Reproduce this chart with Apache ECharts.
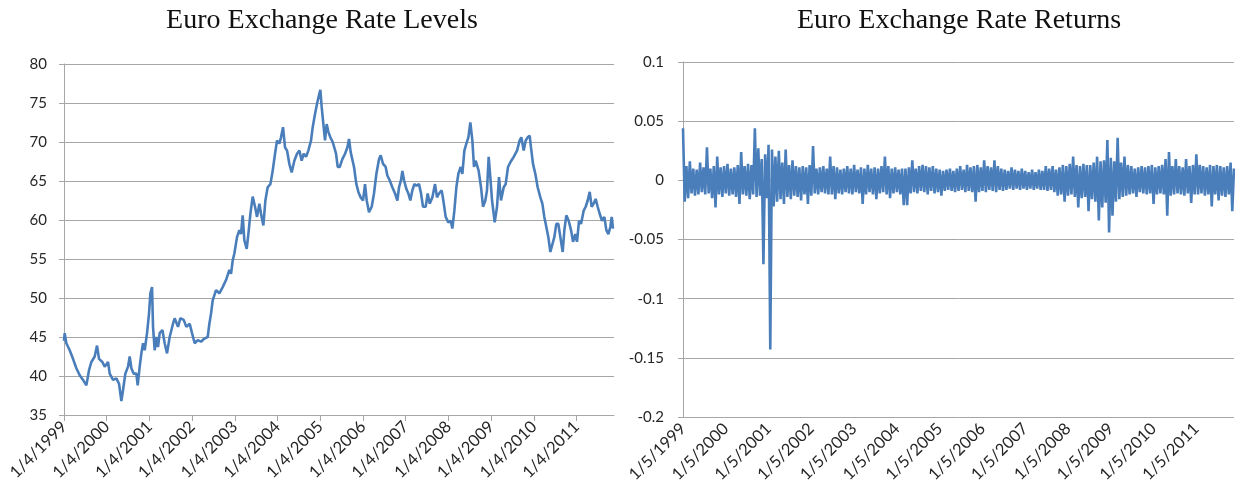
<!DOCTYPE html>
<html>
<head>
<meta charset="utf-8">
<script src="https://cdn.jsdelivr.net/npm/echarts@6/dist/echarts.min.js"></script>
<style>
html,body{margin:0;padding:0;background:#fff;}
#chart{width:1235px;height:501px;}
</style>
</head>
<body>
<div id="chart"></div>
<script>
// ---- data (x = years since the first observation) ----
const levelTitle = 'Euro Exchange Rate Levels';
const returnTitle = 'Euro Exchange Rate Returns';
const tickYears = [1999,2000,2001,2002,2003,2004,2005,2006,2007,2008,2009,2010,2011];
const levelTickLabels = tickYears.map(y => '1/4/' + y);
const returnTickLabels = tickYears.map(y => '1/5/' + y);
const levelSpan = 12.875;
const returnSpan = 12.88;

const levelSeries = [
[0,44.5],[0.016,45.5],[0.055,44.2],[0.133,43.3],[0.211,42.2],[0.289,41.0],[0.368,40.1],[0.446,39.5],[0.524,38.8],[0.586,40.75],
[0.641,41.8],[0.719,42.5],[0.773,43.9],[0.820,42.2],[0.898,41.8],[0.953,41.2],[1.031,41.8],[1.070,40.3],[1.148,39.5],[1.226,39.7],
[1.288,39.0],[1.343,36.8],[1.382,38.2],[1.436,40.3],[1.499,41.2],[1.538,42.5],[1.577,41.0],[1.632,40.3],[1.694,40.3],[1.725,38.8],
[1.772,41.2],[1.811,42.9],[1.850,44.2],[1.889,43.3],[1.944,45.5],[1.990,48.0],[2.022,50.6],[2.061,51.4],[2.084,46.3],[2.123,43.3],
[2.162,45.0],[2.201,43.7],[2.240,45.5],[2.303,45.9],[2.357,44.2],[2.412,42.9],[2.474,45.0],[2.552,46.7],[2.591,47.4],[2.669,46.3],
[2.724,47.4],[2.802,47.2],[2.864,46.3],[2.942,46.7],[2.997,45.5],[3.059,44.2],[3.130,44.6],[3.208,44.4],[3.286,44.8],[3.364,45.0],
[3.403,46.7],[3.442,48.0],[3.481,49.7],[3.559,51.0],[3.637,50.6],[3.715,51.4],[3.793,52.3],[3.871,53.6],[3.910,53.1],[3.949,54.8],
[3.988,55.7],[4.050,57.8],[4.105,58.7],[4.144,58.2],[4.183,60.6],[4.222,57.4],[4.277,56.3],[4.316,58.2],[4.363,60.8],[4.417,63.0],
[4.472,61.7],[4.519,60.4],[4.573,62.1],[4.612,60.8],[4.667,59.3],[4.714,62.5],[4.768,64.2],[4.831,64.6],[4.885,66.3],[4.940,68.5],
[4.987,70.2],[5.041,69.8],[5.080,70.6],[5.127,71.9],[5.174,69.3],[5.221,68.9],[5.275,67.2],[5.330,66.1],[5.392,67.6],[5.455,68.5],
[5.510,68.9],[5.564,67.6],[5.611,68.5],[5.666,68.1],[5.720,68.9],[5.783,70.2],[5.822,71.9],[5.876,73.6],[5.923,74.9],[5.978,76.2],
[6.001,76.7],[6.032,74.5],[6.079,71.9],[6.110,70.2],[6.149,72.3],[6.188,71.3],[6.235,70.6],[6.290,70.0],[6.329,70.2],[6.368,68.5],
[6.407,66.8],[6.454,66.8],[6.516,67.8],[6.579,68.5],[6.633,69.3],[6.672,70.4],[6.711,68.7],[6.789,66.8],[6.844,64.6],[6.891,63.6],
[6.945,62.9],[7.000,62.5],[7.047,64.6],[7.086,62.5],[7.140,61.0],[7.203,61.7],[7.257,63.4],[7.312,65.9],[7.374,67.8],[7.413,68.3],
[7.468,67.2],[7.530,66.8],[7.569,65.7],[7.624,65.1],[7.686,64.2],[7.749,63.4],[7.804,62.5],[7.843,64.2],[7.889,65.1],[7.921,66.3],
[7.960,65.1],[8.014,64.0],[8.061,63.4],[8.108,62.5],[8.155,63.8],[8.201,64.6],[8.248,64.4],[8.311,64.6],[8.358,63.4],[8.404,61.7],
[8.467,61.7],[8.514,63.4],[8.560,62.1],[8.623,62.9],[8.685,64.6],[8.732,62.9],[8.779,63.4],[8.841,63.8],[8.880,62.5],[8.935,60.4],
[8.997,59.7],[9.052,59.9],[9.091,58.9],[9.138,61.2],[9.185,64.2],[9.231,65.9],[9.286,66.8],[9.325,65.9],[9.372,68.9],[9.419,69.8],
[9.466,70.6],[9.512,72.5],[9.559,70.2],[9.598,66.8],[9.637,67.6],[9.707,66.3],[9.762,64.2],[9.809,61.7],[9.863,62.5],[9.902,63.8],
[9.941,68.1],[9.980,65.5],[10.020,62.5],[10.059,60.8],[10.082,59.7],[10.137,61.7],[10.183,65.5],[10.230,62.5],[10.293,64.2],[10.339,64.6],
[10.394,66.8],[10.449,67.4],[10.527,68.1],[10.605,68.9],[10.667,70.2],[10.706,70.6],[10.761,68.9],[10.808,70.2],[10.854,70.6],[10.901,70.8],
[10.932,69.3],[10.979,67.2],[11.034,65.9],[11.088,64.2],[11.151,62.9],[11.198,62.1],[11.244,60.4],[11.291,59.1],[11.338,57.8],[11.385,55.9],
[11.431,56.1],[11.478,57.8],[11.525,59.5],[11.572,59.5],[11.619,57.8],[11.674,55.9],[11.713,58.7],[11.759,60.6],[11.814,59.9],[11.869,58.7],
[11.916,57.2],[11.970,58.2],[12.009,57.2],[12.056,59.9],[12.103,59.5],[12.165,61.2],[12.212,61.7],[12.259,62.5],[12.306,63.6],[12.352,61.7],
[12.399,62.1],[12.446,62.7],[12.493,61.7],[12.540,60.8],[12.594,59.9],[12.649,60.4],[12.696,58.7],[12.743,58.2],[12.789,59.1],[12.821,60.4],
[12.852,58.9]
];

// returns sampled every 0.04 year (alternating upper / lower edge of the band)
const returnStep = 0.04;
const returnSamples = [
0.044,-0.018,0.012,-0.015,0.016,-0.011,0.010,-0.013,0.009,-0.012,
0.015,-0.010,0.011,-0.012,0.028,-0.011,0.010,-0.015,0.012,-0.023,
0.020,-0.012,0.011,-0.014,0.012,-0.011,0.014,-0.013,0.010,-0.012,
0.011,-0.014,0.013,-0.020,0.024,-0.012,0.012,-0.013,0.014,-0.016,
0.013,-0.012,0.044,-0.014,0.027,-0.013,0.018,-0.071,0.022,-0.015,
0.030,-0.143,0.026,-0.022,0.020,-0.018,0.025,-0.016,0.015,-0.020,
0.026,-0.014,0.013,-0.016,0.017,-0.013,0.012,-0.014,0.011,-0.017,
0.012,-0.012,0.011,-0.020,0.013,-0.013,0.029,-0.011,0.010,-0.012,
0.011,-0.010,0.012,-0.011,0.010,-0.012,0.020,-0.012,0.012,-0.016,
0.011,-0.011,0.009,-0.012,0.010,-0.010,0.012,-0.011,0.010,-0.012,
0.013,-0.010,0.009,-0.011,0.011,-0.020,0.010,-0.012,0.013,-0.010,
0.010,-0.012,0.011,-0.016,0.010,-0.011,0.012,-0.010,0.020,-0.012,
0.012,-0.015,0.010,-0.011,0.011,-0.010,0.009,-0.012,0.010,-0.021,
0.010,-0.021,0.011,-0.011,0.017,-0.010,0.010,-0.011,0.012,-0.009,
0.013,-0.010,0.012,-0.012,0.011,-0.009,0.012,-0.011,0.010,-0.010,
0.009,-0.013,0.008,-0.009,0.009,-0.008,0.010,-0.009,0.008,-0.010,
0.010,-0.009,0.012,-0.008,0.009,-0.010,0.013,-0.009,0.011,-0.010,
0.012,-0.018,0.013,-0.010,0.011,-0.009,0.017,-0.010,0.012,-0.008,
0.011,-0.009,0.017,-0.010,0.012,-0.008,0.010,-0.009,0.009,-0.008,
0.008,-0.007,0.011,-0.008,0.009,-0.007,0.008,-0.008,0.010,-0.007,
0.008,-0.008,0.007,-0.007,0.009,-0.008,0.007,-0.007,0.009,-0.008,
0.008,-0.008,0.012,-0.009,0.010,-0.008,0.012,-0.010,0.009,-0.013,
0.011,-0.012,0.013,-0.018,0.012,-0.013,0.014,-0.012,0.020,-0.014,
0.013,-0.023,0.012,-0.015,0.014,-0.014,0.013,-0.026,0.013,-0.016,
0.015,-0.018,0.020,-0.034,0.016,-0.023,0.017,-0.019,0.034,-0.044,
0.019,-0.030,0.016,-0.018,0.036,-0.016,0.015,-0.014,0.020,-0.013,
0.013,-0.012,0.012,-0.011,0.010,-0.014,0.011,-0.010,0.012,-0.011,
0.011,-0.012,0.012,-0.011,0.013,-0.020,0.011,-0.012,0.012,-0.011,
0.013,-0.012,0.018,-0.030,0.024,-0.013,0.012,-0.012,0.018,-0.011,
0.012,-0.012,0.011,-0.013,0.018,-0.011,0.012,-0.019,0.013,-0.012,
0.022,-0.012,0.013,-0.011,0.012,-0.013,0.011,-0.012,0.013,-0.022,
0.012,-0.012,0.013,-0.017,0.012,-0.013,0.011,-0.014,0.012,-0.012,
0.015,-0.026,0.010
];

const levelTicks = [35,80,5];
const returnTicks = [-0.2,0.1,0.05];

// ---- chart ----
const blue = '#4a7ebb';
const gridGray = '#a6a6a6';
const yLabelFont = {fontFamily:'Lato', fontSize:15, color:'#262626'};
const xLabelFont = {fontFamily:'Lato', fontSize:16.5, color:'#262626'};
const tickIdx = tickYears.map((y,i) => i);

function xAxisFor(span, labels, gridIndex){
  return {
    type:'value', gridIndex, min:0, max:span,
    axisLine:{show:true, lineStyle:{color:gridGray, width:1}},
    axisTick:{show:true, length:6, lineStyle:{color:gridGray}, customValues:tickIdx},
    axisLabel:Object.assign({rotate:45, margin:9, customValues:tickIdx,
      formatter:v => labels[Math.round(v)] || ''}, xLabelFont),
    splitLine:{show:false}
  };
}
function yAxisFor(t, gridIndex, fmt, margin){
  return {
    type:'value', gridIndex, min:t[0], max:t[1], interval:t[2],
    axisLine:{show:true, lineStyle:{color:gridGray, width:1}},
    axisTick:{show:true, length:5, lineStyle:{color:gridGray}},
    axisLabel:Object.assign({margin, formatter:fmt}, yLabelFont),
    splitLine:{show:true, lineStyle:{color:gridGray, width:1}}
  };
}

const chart = echarts.init(document.getElementById('chart'), null, {renderer:'canvas'});
chart.setOption({
  animation:false,
  backgroundColor:'#ffffff',
  graphic:[
    {type:'text', x:322, y:7, style:{text:levelTitle, font:'28px "Liberation Serif"', fill:'#111', align:'center', textAlign:'center', verticalAlign:'top'}},
    {type:'text', x:959, y:7, style:{text:returnTitle, font:'28px "Liberation Serif"', fill:'#111', align:'center', textAlign:'center', verticalAlign:'top'}}
  ],
  grid:[
    {left:64, right:621, top:64, bottom:86},
    {left:683, right:1, top:62, bottom:84}
  ],
  xAxis:[xAxisFor(levelSpan, levelTickLabels, 0), xAxisFor(returnSpan, returnTickLabels, 1)],
  yAxis:[
    yAxisFor(levelTicks, 0, v => String(v), 17),
    yAxisFor(returnTicks, 1, v => String(Math.round(v*100)/100), 19)
  ],
  series:[
    {type:'line', xAxisIndex:0, yAxisIndex:0, data:levelSeries, showSymbol:false,
     lineStyle:{color:blue, width:2.6}, silent:true},
    {type:'line', xAxisIndex:1, yAxisIndex:1, data:returnSamples.map((v,i)=>[i*returnStep, v]), showSymbol:false,
     lineStyle:{color:blue, width:2.6, join:'miter'}, silent:true}
  ]
});
</script>
</body>
</html>
